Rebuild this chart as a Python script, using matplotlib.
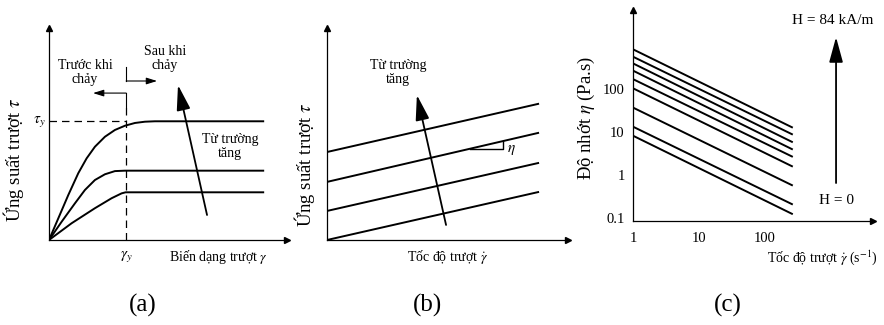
import numpy as np
import matplotlib
matplotlib.use('Agg')
import matplotlib.pyplot as plt

plt.rcParams['font.family'] = ['Liberation Serif', 'DejaVu Serif']
plt.rcParams['mathtext.fontset'] = 'stix'

# ---- panel (a): stress vs strain (schematic units) ----
top_x = [0, 0.39, 0.81, 1.23, 1.58, 1.93, 2.35, 2.77, 3.19, 3.61, 4.03, 4.45, 9.0]
top_y = [0, 1.02, 2.12, 3.15, 3.85, 4.40, 4.87, 5.19, 5.39, 5.52, 5.58, 5.6, 5.6]
mid_x = [0, 0.53, 1.09, 1.51, 1.93, 2.35, 2.77, 3.19, 9.0]
mid_y = [0, 0.86, 1.73, 2.36, 2.83, 3.10, 3.25, 3.27, 3.27]
low_x = [0, 0.95, 1.93, 2.63, 3.05, 3.22, 9.0]
low_y = [0, 0.79, 1.50, 1.97, 2.20, 2.25, 2.25]
gamma_y = 3.24
tau_y = 5.6

# ---- panel (b): stress vs shear rate ----
b_x = [0, 8.76]
b_start = [0, 1.37, 2.74, 4.15]
b_end = [2.26, 3.63, 5.05, 6.42]

# ---- panel (c): viscosity vs shear rate (log-log) ----
c_rate = [1, 257]
eta_start = [840, 565, 395, 268, 170, 104, 37, 13.3, 8.2]
eta_end = [12.9, 8.9, 5.9, 4.0, 2.7, 1.6, 0.58, 0.21, 0.125]
c_xticks = [1, 10, 100]
c_xlabels = ['1', '10', '100']
c_yticks = [0.1, 1, 10, 100]
c_ylabels = ['0.1', '1', '10', '100']

W, H = 884, 325
fig = plt.figure(figsize=(W / 100, H / 100), dpi=100)


def px_axes(left, right, bottom, top):
    return fig.add_axes([left / W, 1 - bottom / H, (right - left) / W, (bottom - top) / H])


def style(ax):
    for s in ['top', 'right']:
        ax.spines[s].set_visible(False)
    for s in ['left', 'bottom']:
        ax.spines[s].set_linewidth(0.9)
    ax.plot(1, 0, '>', color='k', ms=4, transform=ax.transAxes, clip_on=False)
    ax.plot(0, 1, '^', color='k', ms=4, transform=ax.transAxes, clip_on=False)
    ax.patch.set_alpha(0)


lw = 1.4
fs = 10
yfs = 13.5
big = dict(arrowstyle='-|>,head_length=1.1,head_width=0.3', color='k', lw=1.3,
           mutation_scale=14, shrinkA=0, shrinkB=0)
small = dict(arrowstyle='-|>,head_length=0.8,head_width=0.25', color='k', lw=0.8,
             mutation_scale=8, shrinkA=0, shrinkB=0)

# (a)
ax = px_axes(49, 287, 240, 28)
style(ax)
ax.set_xlim(0, 10)
ax.set_ylim(0, 10)
ax.set_xticks([])
ax.set_yticks([])
ax.plot(top_x, top_y, color='k', lw=lw)
ax.plot(mid_x, mid_y, color='k', lw=lw)
ax.plot(low_x, low_y, color='k', lw=lw)
ax.plot([0, gamma_y], [tau_y, tau_y], color='k', lw=0.9, ls=(0, (6, 4)))
ax.plot([gamma_y, gamma_y], [0, 6.27], color='k', lw=0.9, ls=(0, (6, 4)))
ax.plot([gamma_y, gamma_y], [6.27, 6.93], color='k', lw=0.8)
ax.plot([gamma_y, gamma_y], [7.5, 8.16], color='k', lw=0.8)
ax.annotate('', xy=(1.85, 6.93), xytext=(gamma_y, 6.93), arrowprops=small)
ax.annotate('', xy=(4.54, 7.5), xytext=(gamma_y, 7.5), arrowprops=small)
ax.annotate('', xy=(5.42, 7.31), xytext=(6.64, 1.18), arrowprops=big)
ax.text(1.51, 7.92, 'Trước khi\nchảy', ha='center', va='center', fontsize=fs, linespacing=1.1)
ax.text(4.87, 8.58, 'Sau khi\nchảy', ha='center', va='center', fontsize=fs, linespacing=1.1)
ax.text(7.6, 4.39, 'Từ trường\ntăng', ha='center', va='center', fontsize=fs, linespacing=1.1)
ax.text(-0.42, tau_y, r'$\tau_y$', ha='center', va='center', fontsize=fs + 1)
ax.text(gamma_y, -0.8, r'$\gamma_y$', ha='center', va='center', fontsize=fs + 1)
ax.text(7.1, -0.8, r'Biến dạng trượt $\gamma$', ha='center', va='center', fontsize=fs)
ax.text(-1.5, 3.77, r'Ứng suất trượt $\tau$', ha='center', va='center', rotation=90, fontsize=yfs)

# (b)
ax = px_axes(327, 568, 240, 28)
style(ax)
ax.set_xlim(0, 10)
ax.set_ylim(0, 10)
ax.set_xticks([])
ax.set_yticks([])
for s, e in zip(b_start, b_end):
    ax.plot(b_x, [s, e], color='k', lw=lw)
k = (b_end[2] - b_start[2]) / b_x[1]
t0, t1 = 5.93, 7.30
ax.plot([t0, t1, t1], [b_start[2] + k * t0, b_start[2] + k * t0, b_start[2] + k * t1],
        color='k', lw=1.0)
ax.text(7.63, 4.25, r'$\eta$', ha='center', va='center', fontsize=fs + 1)
ax.annotate('', xy=(3.73, 6.84), xytext=(4.94, 0.71), arrowprops=big)
ax.text(2.95, 7.9, 'Từ trường\ntăng', ha='center', va='center', fontsize=fs, linespacing=1.1)
ax.text(5.02, -0.8, r'Tốc độ trượt $\dot{\gamma}$', ha='center', va='center', fontsize=fs)
ax.text(-0.93, 3.54, r'Ứng suất trượt $\tau$', ha='center', va='center', rotation=90, fontsize=yfs)

# (c)
ax = px_axes(633, 873, 221, 10)
style(ax)
ax.set_xscale('log')
ax.set_yscale('log')
ax.set_xlim(1, 4360)
ax.set_ylim(0.085, 6900)
ax.minorticks_off()
ax.set_xticks(c_xticks)
ax.set_xticklabels(c_xlabels)
ax.set_yticks(c_yticks)
ax.set_yticklabels(c_ylabels)
ax.tick_params(length=0, labelsize=10.5, pad=6)
ax.tick_params(axis='x', pad=8)
for s, e in zip(eta_start, eta_end):
    ax.plot(c_rate, [s, e], color='k', lw=lw)
ax.annotate('', xy=(1200, 1620), xytext=(1200, 0.65), arrowprops=big)
ax.text(1070, 4000, 'H = 84 kA/m', ha='center', va='center', fontsize=11)
ax.text(1200, 0.26, 'H = 0', ha='center', va='center', fontsize=11)
ax.text(0.79, -0.175, r'Tốc độ trượt $\dot{\gamma}$ (s$^{-1}$)', ha='center', va='center',
        fontsize=fs, transform=ax.transAxes)
ax.text(-0.195, 0.49, r'Độ nhớt $\eta$ (Pa.s)', ha='center', va='center', rotation=90,
        fontsize=yfs, transform=ax.transAxes)

# panel letters
for lab, x in [('(a)', 143), ('(b)', 427), ('(c)', 728)]:
    fig.text(x / W, 1 - 305 / H, lab, ha='center', va='center', fontsize=18)

fig.savefig('out.png', dpi=100)
